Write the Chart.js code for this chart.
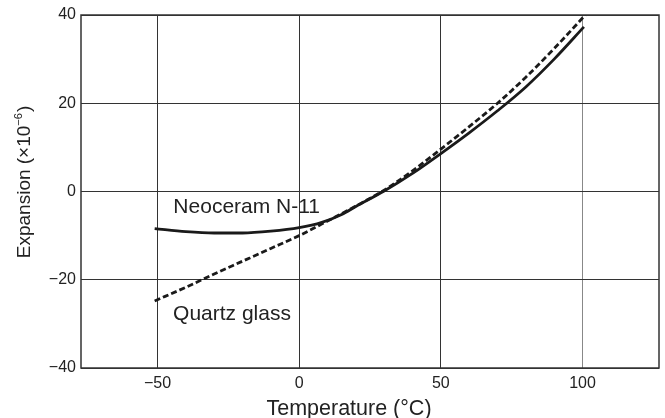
<!DOCTYPE html>
<html>
<head>
<meta charset="utf-8">
<script src="https://cdn.jsdelivr.net/npm/chart.js@4/dist/chart.umd.min.js"></script>
<style>
  body { margin: 0; background: #fff; }
  #wrap { width: 665px; height: 418px; }
</style>
</head>
<body>
<div id="wrap"><canvas id="expChart"></canvas></div>
<script>
// temperature (°C) vs expansion (x10^-6)
const quartzTemp = [-51, -40, -30, -20, -10, 0, 10, 20, 30, 40, 50, 60, 70, 80, 90, 101];
const quartzExp  = [-24.8, -21.7, -18.7, -15.8, -12.9, -10, -6.7, -3.3, 0.3, 4.7, 9.6, 14.7, 20, 25.9, 32.4, 40];

const neoTemp = [-51, -40, -30, -20, -10, 0, 8, 15, 20, 30, 40, 50, 60, 70, 80, 90, 100.5];
const neoExp  = [-8.4, -9.1, -9.4, -9.4, -9.0, -8.2, -7.0, -5.2, -3.4, 0.1, 4.1, 8.6, 13.3, 18.3, 23.7, 30.0, 37.3];

const xTicks = [-50, 0, 50, 100];
const yTicks = [-40, -20, 0, 20, 40];

const fontFamily = '"Liberation Sans", Arial, sans-serif';
const textColor = '#222';

const toPoints = (xs, ys) => xs.map((x, i) => ({ x: x, y: ys[i] }));
const minusSign = v => String(v).replace('-', '\u2212');

// frame, curve names, axis titles
const extrasPlugin = {
    id: 'extras',
    afterDraw(chart) {
        const ctx = chart.ctx;
        const a = chart.chartArea;
        const xs = chart.scales.x;
        const ys = chart.scales.y;
        ctx.save();
        ctx.strokeStyle = '#333';
        ctx.lineWidth = 1.5;
        ctx.strokeRect(a.left, a.top, a.right - a.left, a.bottom - a.top);

        ctx.fillStyle = textColor;
        ctx.font = '21px ' + fontFamily;
        ctx.textAlign = 'left';
        ctx.textBaseline = 'alphabetic';
        ctx.fillText('Neoceram N-11', xs.getPixelForValue(-44.4), ys.getPixelForValue(-4.8));
        ctx.fillText('Quartz glass', xs.getPixelForValue(-44.5), ys.getPixelForValue(-29.1));

        ctx.font = '21.5px ' + fontFamily;
        ctx.textAlign = 'center';
        ctx.fillText('Temperature (\u00B0C)', 349, 414.5);

        // y title, drawn in pieces so the exponent stays small
        const mainFont = '19px ' + fontFamily;
        const supFont = '11px ' + fontFamily;
        const partA = 'Expansion (\u00D710';
        const partB = '\u22126';
        const partC = ')';
        ctx.font = mainFont;
        const wA = ctx.measureText(partA).width;
        const wC = ctx.measureText(partC).width;
        ctx.font = supFont;
        const wB = ctx.measureText(partB).width;
        const total = wA + wB + wC + 1;
        ctx.translate(30, 182);
        ctx.rotate(-Math.PI / 2);
        ctx.textAlign = 'left';
        let px = -total / 2;
        ctx.font = mainFont;
        ctx.fillText(partA, px, 0);
        px += wA;
        ctx.font = supFont;
        ctx.fillText(partB, px, -8);
        px += wB + 1;
        ctx.font = mainFont;
        ctx.fillText(partC, px, 0);
        ctx.restore();
    }
};

new Chart(document.getElementById('expChart').getContext('2d'), {
    type: 'scatter',
    data: {
        datasets: [
            {
                label: 'Neoceram N-11',
                data: toPoints(neoTemp, neoExp),
                showLine: true,
                borderColor: '#1a1a1a',
                borderWidth: 2.8,
                pointRadius: 0,
                cubicInterpolationMode: 'monotone'
            },
            {
                label: 'Quartz glass',
                data: toPoints(quartzTemp, quartzExp),
                showLine: true,
                borderColor: '#1a1a1a',
                borderWidth: 2.8,
                borderDash: [6, 3],
                pointRadius: 0,
                cubicInterpolationMode: 'monotone'
            }
        ]
    },
    options: {
        responsive: true,
        maintainAspectRatio: false,
        animation: false,
        layout: { padding: { top: 15, right: 6, left: 0, bottom: 0 } },
        plugins: { legend: { display: false }, tooltip: { enabled: false } },
        scales: {
            x: {
                type: 'linear',
                min: -77,
                max: 127,
                afterBuildTicks: s => { s.ticks = xTicks.map(v => ({ value: v })); },
                afterFit: s => { s.height = 50; },
                grid: {
                    drawTicks: false,
                    color: c => (c.tick && c.tick.value === 100) ? '#888' : '#333',
                    lineWidth: 1
                },
                border: { display: false },
                ticks: {
                    padding: 6,
                    color: textColor,
                    font: { family: fontFamily, size: 16 },
                    callback: v => minusSign(v)
                }
            },
            y: {
                min: -40,
                max: 40,
                afterBuildTicks: s => { s.ticks = yTicks.map(v => ({ value: v })); },
                afterFit: s => { s.width = 81; },
                grid: { drawTicks: false, color: '#333', lineWidth: 1 },
                border: { display: false },
                ticks: {
                    padding: 5,
                    color: textColor,
                    font: { family: fontFamily, size: 16 },
                    callback: v => minusSign(v)
                }
            }
        }
    },
    plugins: [extrasPlugin]
});
</script>
</body>
</html>
